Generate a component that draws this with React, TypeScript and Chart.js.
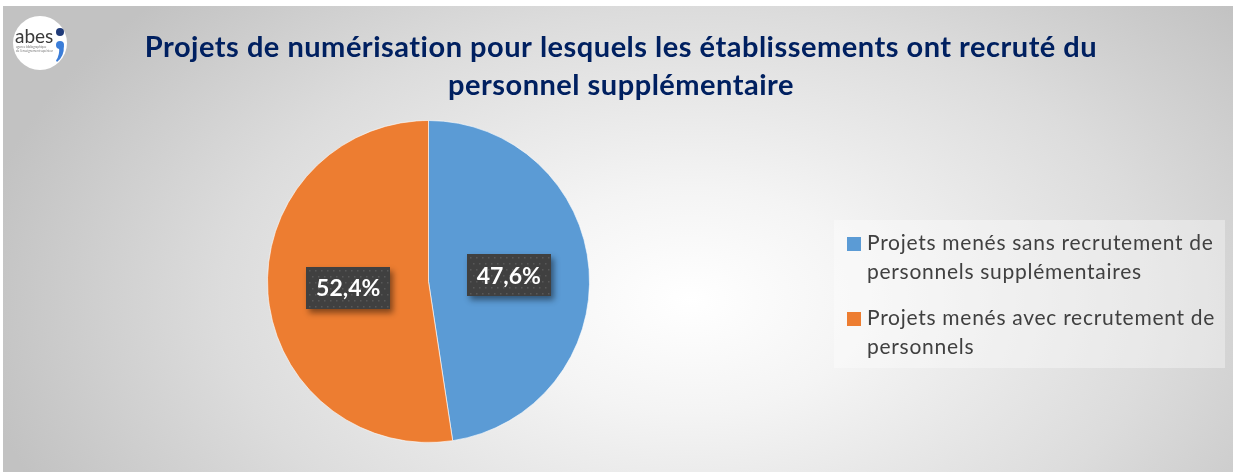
import React, { useEffect, useRef } from "react";
import { Chart, registerables } from "chart.js";

Chart.register(...registerables);

const TITLE_LINES = [
  "Projets de numérisation pour lesquels les établissements ont recruté du",
  "personnel supplémentaire",
];
const CATEGORIES = [
  "Projets menés sans recrutement de personnels supplémentaires",
  "Projets menés avec recrutement de personnels",
];
const VALUES = [47.6, 52.4];
const COLORS = ["#5B9BD5", "#ED7D31"];

const FONT = "Lato, 'Open Sans', 'Liberation Sans', sans-serif";

function wrap(ctx: CanvasRenderingContext2D, text: string, maxW: number): string[] {
  const words = text.split(" ");
  const lines: string[] = [];
  let cur = "";
  for (const w of words) {
    const t = cur ? cur + " " + w : w;
    if (ctx.measureText(t).width > maxW && cur) {
      lines.push(cur);
      cur = w;
    } else cur = t;
  }
  if (cur) lines.push(cur);
  return lines;
}

const decorPlugin = {
  id: "decor",
  beforeDraw(chart: any) {
    const ctx: any = chart.ctx;
    const W = chart.width;
    const H = chart.height;
    ctx.save();
    ctx.fillStyle = "#ffffff";
    ctx.fillRect(0, 0, W, H);
    // elliptical radial gradient background
    const x0 = 3, y0 = 6, x1 = 1233, y1 = 472;
    ctx.save();
    ctx.beginPath();
    ctx.rect(x0, y0, x1 - x0, y1 - y0);
    ctx.clip();
    const cx = 690, cy = 300;
    ctx.translate(cx, cy);
    ctx.scale(1.0, 0.62);
    const g = ctx.createRadialGradient(0, 0, 0, 0, 0, 720);
    g.addColorStop(0, "#ffffff");
    g.addColorStop(0.25, "#f4f4f4");
    g.addColorStop(0.65, "#dcdcdc");
    g.addColorStop(1, "#c2c2c2");
    ctx.fillStyle = g;
    ctx.fillRect(-2000, -2000, 4000, 4000);
    ctx.restore();

    // logo
    ctx.fillStyle = "#ffffff";
    ctx.beginPath();
    ctx.arc(40, 43, 27, 0, Math.PI * 2);
    ctx.fill();
    ctx.fillStyle = "#3a3a3a";
    ctx.font = `19px ${FONT}`;
    ctx.textAlign = "left";
    ctx.textBaseline = "alphabetic";
    ctx.fillText("abes", 15, 43);
    ctx.font = `3px ${FONT}`;
    ctx.fillStyle = "#777";
    ctx.fillText("agence bibliographique", 16, 48);
    ctx.fillText("de l'enseignement supérieur", 16, 52);
    ctx.fillStyle = "#1F3A78";
    ctx.beginPath();
    ctx.arc(60, 32, 4, 0, Math.PI * 2);
    ctx.fill();
    ctx.fillStyle = "#3B7DD8";
    ctx.beginPath();
    ctx.arc(60, 45, 4, 0, Math.PI * 2);
    ctx.fill();
    ctx.beginPath();
    ctx.moveTo(63.8, 46);
    ctx.quadraticCurveTo(64.5, 56, 57, 62);
    ctx.lineTo(56, 60.5);
    ctx.quadraticCurveTo(60, 55, 59, 47);
    ctx.closePath();
    ctx.fill();

    // title
    ctx.fillStyle = "#002060";
    ctx.font = `bold 29px ${FONT}`;
    ctx.letterSpacing = "0.5px";
    ctx.textAlign = "center";
    TITLE_LINES.forEach((l, i) => ctx.fillText(l, 621, 57 + i * 38));

    // legend
    ctx.letterSpacing = "0px";
    ctx.fillStyle = "rgba(255,255,255,0.35)";
    ctx.fillRect(834, 220, 391, 148);
    ctx.font = `21px ${FONT}`;
    ctx.letterSpacing = "0.72px";
    ctx.textAlign = "left";
    let y = 250;
    CATEGORIES.forEach((c, i) => {
      ctx.fillStyle = COLORS[i];
      ctx.fillRect(847, y - 13, 14, 14);
      ctx.fillStyle = "#404040";
      const lines = wrap(ctx, c, 356);
      lines.forEach((l, j) => ctx.fillText(l, 867, y + j * 29));
      y += lines.length * 29 + 17;
    });
    ctx.letterSpacing = "0px";
    ctx.restore();
  },
  afterDatasetsDraw(chart: any) {
    const ctx: CanvasRenderingContext2D = chart.ctx;
    const meta = chart.getDatasetMeta(0);
    meta.data.forEach((arc: any, i: number) => {
      const p = arc.tooltipPosition();
      const bw = 84, bh = 42;
      const bx = Math.round(p.x - bw / 2), by = Math.round(p.y - bh / 2);
      ctx.save();
      ctx.shadowColor = "rgba(0,0,0,0.45)";
      ctx.shadowBlur = 6;
      ctx.shadowOffsetX = 3;
      ctx.shadowOffsetY = 4;
      ctx.fillStyle = "#404040";
      ctx.fillRect(bx, by, bw, bh);
      ctx.restore();
      ctx.save();
      ctx.fillStyle = "rgba(255,255,255,0.13)";
      for (let yy = by + 3; yy < by + bh; yy += 6) {
        for (let xx = bx + 3 + ((yy - by) % 12 === 3 ? 0 : 3); xx < bx + bw; xx += 6) {
          ctx.fillRect(xx, yy, 1.5, 1.5);
        }
      }
      ctx.fillStyle = "#ffffff";
      ctx.font = `bold 23px ${FONT}`;
      ctx.textAlign = "center";
      ctx.textBaseline = "middle";
      ctx.fillText(VALUES[i].toFixed(1).replace(".", ",") + "%", p.x, p.y + 1);
      ctx.restore();
    });
  },
};

export default function App() {
  const ref = useRef<HTMLCanvasElement | null>(null);
  useEffect(() => {
    document.body.style.margin = "0";
    const chart = new Chart(ref.current as HTMLCanvasElement, {
      type: "pie",
      data: {
        labels: CATEGORIES,
        datasets: [
          {
            data: VALUES,
            backgroundColor: COLORS,
            borderColor: "rgba(255,255,255,0.6)",
            borderWidth: 1,
          },
        ],
      },
      options: {
        responsive: false,
        animation: false,
        layout: { padding: { left: 267, right: 646, top: 120, bottom: 31 } },
        plugins: {
          legend: { display: false },
          title: { display: false },
          tooltip: { enabled: false },
        },
      },
      plugins: [decorPlugin],
    });
    return () => chart.destroy();
  }, []);
  return <canvas ref={ref} width={1236} height={474} style={{ display: "block" }} />;
}
